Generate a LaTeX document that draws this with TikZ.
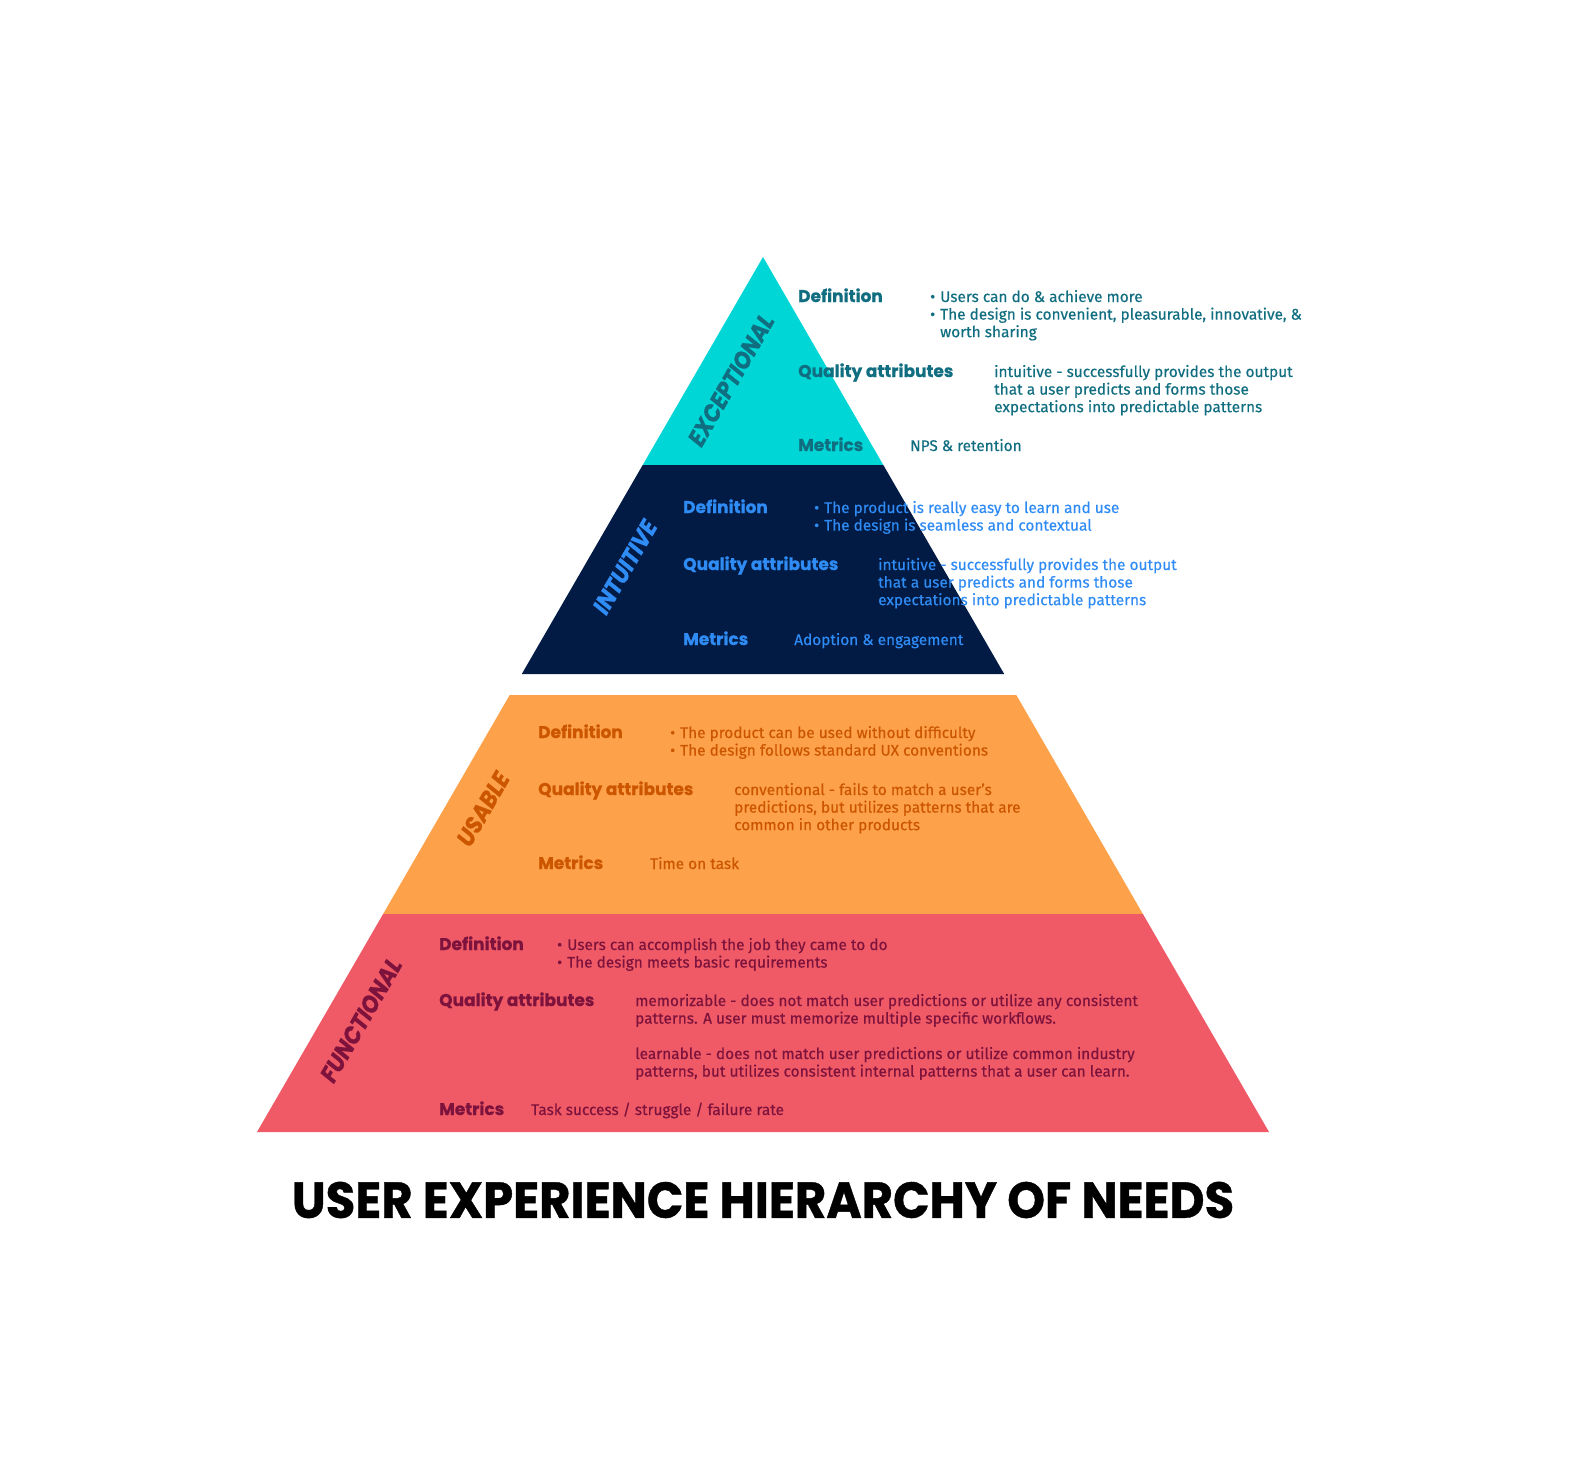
\documentclass[tikz,border=0pt]{standalone}
\usepackage{fontspec}
\setmainfont{Fira Sans}[FakeBold=0.3]
\newfontfamily\headfont{Poppins}[FakeBold=0.8]
\usetikzlibrary{positioning}

\definecolor{excfill}{RGB}{0,214,214}
\definecolor{exctext}{RGB}{16,110,128}
\definecolor{intfill}{RGB}{2,27,69}
\definecolor{inttext}{RGB}{48,140,245}
\definecolor{usafill}{RGB}{253,162,75}
\definecolor{usatext}{RGB}{204,85,0}
\definecolor{funfill}{RGB}{239,90,102}
\definecolor{funtext}{RGB}{125,18,60}

\newcommand{\txtlines}[1]{\begin{tabular}[t]{@{}l@{}}#1\end{tabular}}
\newcommand{\txtbullets}[1]{\begin{tabular}[t]{@{}l@{\hspace{5pt}}l@{}}#1\end{tabular}}

\begin{document}
\begin{tikzpicture}[x=1pt, y=-1pt,
    head/.style={anchor=base west, inner sep=0pt, font=\headfont\fontsize{17}{17}\selectfont\bfseries},
    body/.style={anchor=base west, inner sep=0pt, font=\fontsize{15.4}{17.6}\selectfont},
    tier/.style={inner sep=0pt, rotate=60, font=\headfont\fontsize{24}{24}\selectfont\bfseries\itshape}]
    \useasboundingbox [fill=white] (0, 0) rectangle (1574, 1472);

    % Bands
    \fill [excfill] (763, 257) -- (883.3, 465) -- (642.7, 465) -- cycle;
    \fill [intfill] (642.7, 465) -- (883.3, 465) -- (1004.2, 674) -- (521.8, 674) -- cycle;
    \fill [usafill] (509.7, 695) -- (1016.3, 695) -- (1142.9, 914) -- (383.1, 914) -- cycle;
    \fill [funfill] (383.1, 914) -- (1142.9, 914) -- (1269, 1132) -- (257, 1132) -- cycle;

    % Exceptional
    \node [tier, exctext] (exc) at (731, 380) {\scalebox{0.9}[1]{EXCEPTIONAL}};
    \node [head, exctext] (exc-def) at (798, 302) {Definition};
    \node [body, exctext] (exc-def-txt) at (930, 302) {\txtbullets{\textbullet & Users can do \& achieve more\\ \textbullet & The design is convenient, pleasurable, innovative, \&\\ & worth sharing}};
    \node [head, exctext] (exc-qa) at (798, 377) {Quality attributes};
    \node [body, exctext] (exc-qa-txt) at (994, 377) {\txtlines{intuitive - successfully provides the output\\ that a user predicts and forms those\\ expectations into predictable patterns}};
    \node [head, exctext] (exc-met) at (798, 451) {Metrics};
    \node [body, exctext] (exc-met-txt) at (910, 451) {NPS \& retention};

    % Intuitive
    \node [tier, inttext] (int) at (625, 567) {\scalebox{0.9}[1]{INTUITIVE}};
    \node [head, inttext] (int-def) at (683, 513) {Definition};
    \node [body, inttext] (int-def-txt) at (814, 513) {\txtbullets{\textbullet & The product is really easy to learn and use\\ \textbullet & The design is seamless and contextual}};
    \node [head, inttext] (int-qa) at (683, 570) {Quality attributes};
    \node [body, inttext] (int-qa-txt) at (878, 570) {\txtlines{intuitive - successfully provides the output\\ that a user predicts and forms those\\ expectations into predictable patterns}};
    \node [head, inttext] (int-met) at (683, 645) {Metrics};
    \node [body, inttext] (int-met-txt) at (794, 645) {Adoption \& engagement};

    % Usable
    \node [tier, usatext] (usa) at (483, 809) {\scalebox{0.9}[1]{USABLE}};
    \node [head, usatext] (usa-def) at (538, 738) {Definition};
    \node [body, usatext] (usa-def-txt) at (670, 738) {\txtbullets{\textbullet & The product can be used without difficulty\\ \textbullet & The design follows standard UX conventions}};
    \node [head, usatext] (usa-qa) at (538, 795) {Quality attributes};
    \node [body, usatext] (usa-qa-txt) at (734, 795) {\txtlines{conventional - fails to match a user's\\ predictions, but utilizes patterns that are\\ common in other products}};
    \node [head, usatext] (usa-met) at (538, 869) {Metrics};
    \node [body, usatext] (usa-met-txt) at (650, 869) {Time on task};

    % Functional
    \node [tier, funtext] (fun) at (361, 1020) {\scalebox{0.9}[1]{FUNCTIONAL}};
    \node [head, funtext] (fun-def) at (439, 950) {Definition};
    \node [body, funtext] (fun-def-txt) at (557, 950) {\txtbullets{\textbullet & Users can accomplish the job they came to do\\ \textbullet & The design meets basic requirements}};
    \node [head, funtext] (fun-qa) at (439, 1006) {Quality attributes};
    \node [body, funtext] (fun-qa-txt) at (635, 1006) {\txtlines{memorizable - does not match user predictions or utilize any consistent\\ patterns. A user must memorize multiple specific workflows.}};
    \node [body, funtext] (fun-qa-txt2) at (635, 1059) {\txtlines{learnable - does not match user predictions or utilize common industry\\ patterns, but utilizes consistent internal patterns that a user can learn.}};
    \node [head, funtext] (fun-met) at (439, 1115) {Metrics};
    \node [body, funtext] (fun-met-txt) at (531, 1115) {Task success / struggle / failure rate};

    % Title
    \node [inner sep=0pt] (title) at (763, 1200) {\resizebox{942pt}{36pt}{\headfont\bfseries USER EXPERIENCE HIERARCHY OF NEEDS}};
  \end{tikzpicture}
\end{document}
